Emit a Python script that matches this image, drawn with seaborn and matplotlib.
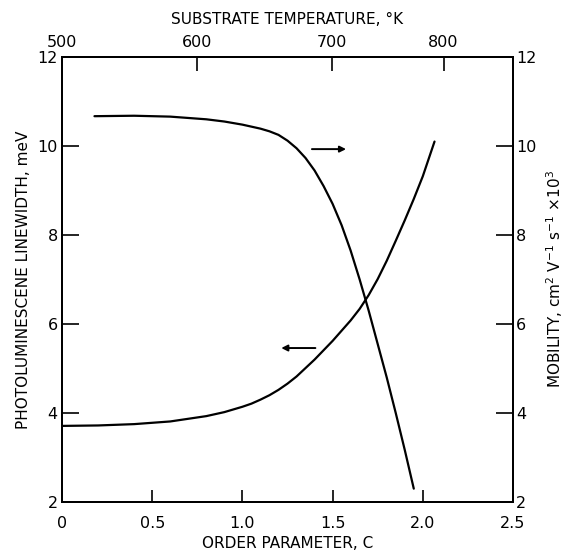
import matplotlib
matplotlib.use("Agg")
import matplotlib.pyplot as plt
import seaborn as sns
import pandas as pd

# ---- data ----
order_lw = [0.0, 0.2, 0.4, 0.6, 0.8, 0.9, 1.0, 1.05, 1.1, 1.15, 1.2, 1.25, 1.3, 1.4, 1.5,
            1.6, 1.65, 1.7, 1.75, 1.8, 1.85, 1.9, 1.95, 2.0, 2.065]
linewidth = [3.71, 3.72, 3.75, 3.81, 3.93, 4.02, 4.14, 4.21, 4.3, 4.4, 4.52, 4.66, 4.82, 5.2, 5.62,
             6.08, 6.34, 6.65, 7.01, 7.42, 7.87, 8.33, 8.81, 9.32, 10.1]

order_mob = [0.18, 0.4, 0.6, 0.8, 0.9, 1.0, 1.1, 1.15, 1.2, 1.25, 1.3, 1.35, 1.4, 1.45,
             1.5, 1.55, 1.6, 1.65, 1.7, 1.75, 1.8, 1.85, 1.9, 1.95]
mobility = [10.67, 10.68, 10.66, 10.6, 10.55, 10.48, 10.39, 10.33, 10.25, 10.12, 9.95, 9.73,
            9.45, 9.1, 8.7, 8.22, 7.65, 7.0, 6.3, 5.55, 4.8, 4.0, 3.17, 2.3]

c_ticks = [0, 0.5, 1.0, 1.5, 2.0, 2.5]
c_labels = ["0", "0.5", "1.0", "1.5", "2.0", "2.5"]
y_ticks = [2, 4, 6, 8, 10, 12]
temp_positions = [0.0, 0.75, 1.495, 2.115]
temp_labels = ["500", "600", "700", "800"]

arrow_mob = ((1.37, 9.93), (1.59, 9.93))
arrow_lw = ((1.42, 5.46), (1.20, 5.46))

df_lw = pd.DataFrame({"C": order_lw, "LW": linewidth})
df_mob = pd.DataFrame({"C": order_mob, "MOB": mobility})

sns.set_style("ticks")
plt.rcParams["font.family"] = ["DejaVu Sans"]
plt.rcParams["text.color"] = "black"
plt.rcParams["axes.labelcolor"] = "black"
plt.rcParams["xtick.color"] = "black"
plt.rcParams["ytick.color"] = "black"

TS = 11.5
LS = 11

fig = plt.figure(figsize=(5.67, 5.57), dpi=100)
ax = fig.add_axes([62 / 567, 1 - 502 / 557, (513 - 62) / 567, (502 - 57) / 557])

sns.lineplot(data=df_lw, x="C", y="LW", ax=ax, color="black", linewidth=1.6, sort=False)
ax.set_xlim(0, 2.5)
ax.set_ylim(2, 12)
ax.set_xticks(c_ticks)
ax.set_xticklabels(c_labels)
ax.set_yticks(y_ticks)
ax.tick_params(axis="x", direction="in", length=9, width=1.2, pad=10, labelsize=TS)
ax.tick_params(axis="y", direction="in", length=12, width=1.2, pad=3, labelsize=TS)
ax.set_xlabel("ORDER PARAMETER, C", fontsize=LS, labelpad=4)
ax.set_ylabel("PHOTOLUMINESCENE LINEWIDTH, meV", fontsize=LS, labelpad=5)

ax2 = ax.twinx()
sns.lineplot(data=df_mob, x="C", y="MOB", ax=ax2, color="black", linewidth=1.6, sort=False)
ax2.set_ylim(2, 12)
ax2.set_yticks(y_ticks)
ax2.tick_params(axis="y", direction="in", length=12, width=1.2, pad=2, labelsize=TS)
ax2.set_ylabel(r"MOBILITY, cm$^{2}$ V$^{-1}$ s$^{-1}$ $\times$10$^{3}$", fontsize=LS, labelpad=6)

ax3 = ax.twiny()
ax3.set_xlim(0, 2.5)
ax3.set_xticks(temp_positions)
ax3.set_xticklabels(temp_labels)
ax3.tick_params(axis="x", direction="in", length=10, width=1.2, pad=5, labelsize=TS)
ax3.set_xlabel("SUBSTRATE TEMPERATURE, \u00b0K", fontsize=LS, labelpad=8)

for a in (ax, ax2, ax3):
    for s in a.spines.values():
        s.set_linewidth(1.4)
        s.set_color("black")

ax.annotate("", xy=arrow_mob[1], xytext=arrow_mob[0],
            arrowprops=dict(arrowstyle="-|>", color="black", lw=1.4, mutation_scale=9))
ax.annotate("", xy=arrow_lw[1], xytext=arrow_lw[0],
            arrowprops=dict(arrowstyle="-|>", color="black", lw=1.4, mutation_scale=9))

fig.savefig("out.png", dpi=100)
